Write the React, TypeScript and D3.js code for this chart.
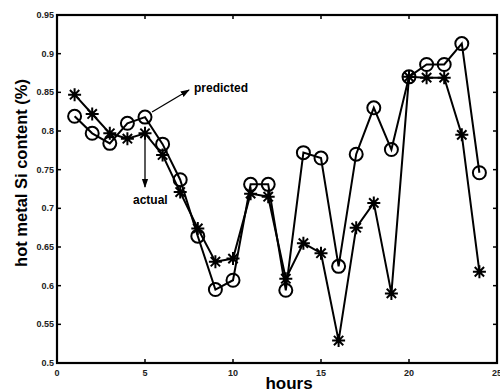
import React, { useEffect, useRef } from "react";
import * as d3 from "d3";

// hours 1..24
const hours = [1, 2, 3, 4, 5, 6, 7, 8, 9, 10, 11, 12, 13, 14, 15, 16, 17, 18, 19, 20, 21, 22, 23, 24];
const predicted = [
  0.819, 0.797, 0.784, 0.81, 0.818, 0.783, 0.737, 0.664, 0.595, 0.607, 0.731, 0.731,
  0.594, 0.772, 0.765, 0.625, 0.77, 0.83, 0.776, 0.87, 0.886, 0.886, 0.913, 0.746,
];
const actual = [
  0.847, 0.822, 0.797, 0.79, 0.797, 0.769, 0.721, 0.674, 0.631, 0.635, 0.719, 0.715,
  0.609, 0.655, 0.642, 0.529, 0.675, 0.707, 0.59, 0.87, 0.869, 0.869, 0.795, 0.618,
];
const xTicks = [0, 5, 10, 15, 20, 25];
const yTicks = [0.5, 0.55, 0.6, 0.65, 0.7, 0.75, 0.8, 0.85, 0.9, 0.95];

const App = () => {
  const svgRef = useRef<SVGSVGElement>(null);

  useEffect(() => {
    const svg = d3.select(svgRef.current);
    svg.selectAll("*").remove();

    const left = 57, right = 497, top = 15, bottom = 363;
    const x = d3.scaleLinear().domain([0, 25]).range([left, right]);
    const y = d3.scaleLinear().domain([0.5, 0.95]).range([bottom, top]);
    const font = "'Liberation Sans', Arial, sans-serif";

    // frame
    svg.append("rect")
      .attr("x", left).attr("y", top)
      .attr("width", right - left).attr("height", bottom - top)
      .attr("fill", "none").attr("stroke", "#000").attr("stroke-width", 2.2);

    // inward ticks on all sides
    const tl = 4;
    xTicks.forEach((t) => {
      svg.append("line").attr("x1", x(t)).attr("x2", x(t)).attr("y1", bottom).attr("y2", bottom - tl)
        .attr("stroke", "#000").attr("stroke-width", 1.5);
      svg.append("line").attr("x1", x(t)).attr("x2", x(t)).attr("y1", top).attr("y2", top + tl)
        .attr("stroke", "#000").attr("stroke-width", 1.5);
      svg.append("text").attr("x", x(t)).attr("y", bottom + 13)
        .attr("text-anchor", "middle").attr("font-family", font).attr("font-weight", "bold")
        .attr("font-size", 9).attr("fill", "#222").text(t);
    });
    yTicks.forEach((t) => {
      svg.append("line").attr("x1", left).attr("x2", left + tl).attr("y1", y(t)).attr("y2", y(t))
        .attr("stroke", "#000").attr("stroke-width", 1.5);
      svg.append("line").attr("x1", right).attr("x2", right - tl).attr("y1", y(t)).attr("y2", y(t))
        .attr("stroke", "#000").attr("stroke-width", 1.5);
      svg.append("text").attr("x", left - 3).attr("y", y(t) + 3)
        .attr("text-anchor", "end").attr("font-family", font).attr("font-weight", "bold")
        .attr("font-size", 9).attr("fill", "#222").text(d3.format("")(t));
    });

    // axis titles
    svg.append("text").attr("x", 289).attr("y", 389)
      .attr("text-anchor", "middle").attr("font-family", font).attr("font-weight", "bold")
      .attr("font-size", 17).text("hours");
    svg.append("text")
      .attr("transform", `translate(27,173) rotate(-90)`)
      .attr("text-anchor", "middle").attr("font-family", font).attr("font-weight", "bold")
      .attr("font-size", 16.5).text("hot metal Si content (%)");

    const line = d3.line<number>().x((d, i) => x(hours[i])).y((d) => y(d));

    svg.append("path").datum(actual).attr("d", line)
      .attr("fill", "none").attr("stroke", "#000").attr("stroke-width", 2);
    svg.append("path").datum(predicted).attr("d", line)
      .attr("fill", "none").attr("stroke", "#000").attr("stroke-width", 2);

    // predicted markers: open circles
    svg.selectAll(".pc").data(predicted).enter().append("circle")
      .attr("cx", (d, i) => x(hours[i])).attr("cy", (d) => y(d)).attr("r", 6.5)
      .attr("fill", "none").attr("stroke", "#000").attr("stroke-width", 2);

    // actual markers: asterisks
    const s = 6.5, sd = s * 0.72;
    const star = `M${-s},0L${s},0M0,${-s}L0,${s}M${-sd},${-sd}L${sd},${sd}M${-sd},${sd}L${sd},${-sd}`;
    svg.selectAll(".as").data(actual).enter().append("path")
      .attr("transform", (d, i) => `translate(${x(hours[i])},${y(d)})`)
      .attr("d", star).attr("fill", "none").attr("stroke", "#000").attr("stroke-width", 2);

    // annotations
    svg.append("defs").append("marker")
      .attr("id", "ah").attr("viewBox", "0 0 10 10").attr("refX", 9).attr("refY", 5)
      .attr("markerWidth", 7).attr("markerHeight", 7).attr("orient", "auto")
      .append("path").attr("d", "M0,1.5L10,5L0,8.5Z").attr("fill", "#000");

    svg.append("line").attr("x1", 152).attr("y1", 112).attr("x2", 189).attr("y2", 90)
      .attr("stroke", "#000").attr("stroke-width", 1.3).attr("marker-end", "url(#ah)");
    svg.append("text").attr("x", 194).attr("y", 92)
      .attr("font-family", font).attr("font-weight", "bold").attr("font-size", 12).text("predicted");

    svg.append("line").attr("x1", x(5)).attr("y1", y(0.797)).attr("x2", x(5)).attr("y2", 187)
      .attr("stroke", "#000").attr("stroke-width", 1.3).attr("marker-end", "url(#ah)");
    svg.append("text").attr("x", 133).attr("y", 204)
      .attr("font-family", font).attr("font-weight", "bold").attr("font-size", 12).text("actual");
  }, []);

  return (
    <svg
      ref={svgRef}
      width={500}
      height={392}
      style={{ position: "absolute", left: 0, top: 0, background: "#fff" }}
    />
  );
};

export default App;
